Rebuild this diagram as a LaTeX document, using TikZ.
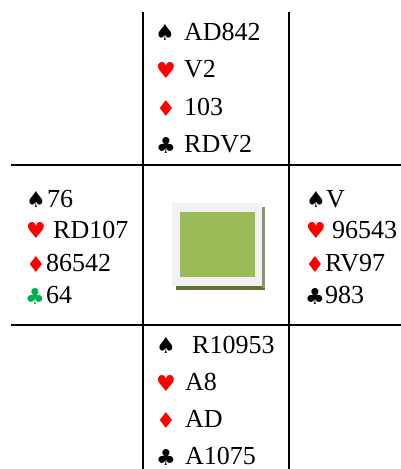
\documentclass[tikz,border=0pt]{standalone}
\usepackage{fontspec}
\setmainfont{Liberation Serif}
\newfontfamily\handfont{Liberation Serif}
\newfontfamily\suitfont{DejaVu Sans}
\definecolor{suitred}{HTML}{FF0000}
\definecolor{suitgreen}{HTML}{00B050}
\definecolor{boxgreen}{HTML}{9BBB59}
\definecolor{boxframe}{HTML}{F2F2F2}
\definecolor{boxshadow}{HTML}{5F7530}
\tikzset{
  hand/.style={anchor=base west, inner sep=0pt, font=\handfont\fontsize{26}{26}\selectfont},
  suit/.style={anchor=center, inner sep=0pt, font=\suitfont\fontsize{22}{22}\selectfont},
  grid/.style={line width=2.2pt, black},
}
\begin{document}
\begin{tikzpicture}[x=1pt,y=-1pt]
\useasboundingbox (0,0) rectangle (401,469);
% grid lines
\draw[grid] (143,12) -- (143,469);
\draw[grid] (289,12) -- (289,469);
\draw[grid] (11,165) -- (401,165);
\draw[grid] (11,325) -- (401,325);
% table
\fill[boxshadow] (176,207) rectangle (265,290);
\fill[boxshadow!60!gray!80] (262,207) rectangle (265,288);
\fill[boxframe] (172,203) rectangle (262,286);
\fill[boxgreen] (180,212) rectangle (255,277);
% North
\node[suit] (ns) at (165,32) {♠};
\node[hand] (nst) at (184,40) {AD842};
\node[suit,text=suitred] (nh) at (166,70) {♥};
\node[hand] (nht) at (184,77) {V2};
\node[suit,text=suitred] (nd) at (166,108) {♦};
\node[hand] (ndt) at (184,115) {103};
\node[suit] (nc) at (166,145) {♣};
\node[hand] (nct) at (184,152) {RDV2};
% West
\node[suit] (ws) at (36,199) {♠};
\node[hand] (wst) at (47,207) {76};
\node[suit,text=suitred] (wh) at (36,230) {♥};
\node[hand] (wht) at (53,238) {RD107};
\node[suit,text=suitred] (wd) at (36,264) {♦};
\node[hand] (wdt) at (46,271) {86542};
\node[suit,text=suitgreen] (wc) at (35,296) {♣};
\node[hand] (wct) at (46,303) {64};
% East
\node[suit] (es) at (316,199) {♠};
\node[hand] (est) at (326,207) {V};
\node[suit,text=suitred] (eh) at (316,230) {♥};
\node[hand] (eht) at (332,238) {96543};
\node[suit,text=suitred] (ed) at (315,264) {♦};
\node[hand] (edt) at (325,271) {RV97};
\node[suit] (ec) at (315,296) {♣};
\node[hand] (ect) at (325,303) {983};
% South
\node[suit] (ss) at (166,345) {♠};
\node[hand] (sst) at (192,353) {R10953};
\node[suit,text=suitred] (sh) at (166,383) {♥};
\node[hand] (sht) at (185,390) {A8};
\node[suit,text=suitred] (sd) at (166,420) {♦};
\node[hand] (sdt) at (185,427) {AD};
\node[suit] (sc) at (166,457) {♣};
\node[hand] (sct) at (185,464) {A1075};
\end{tikzpicture}
\end{document}
